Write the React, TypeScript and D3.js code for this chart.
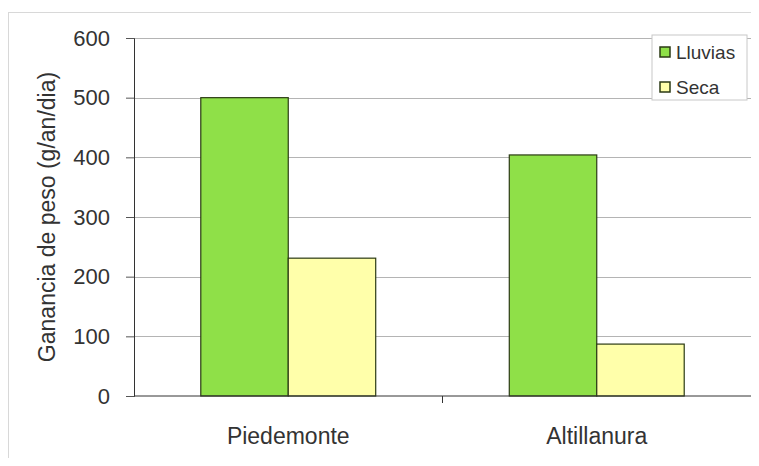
import React, { useEffect, useRef } from "react";
import * as d3 from "d3";

// regiones y temporadas
const categories = ["Piedemonte", "Altillanura"];
const seriesNames = ["Lluvias", "Seca"];
const lluvias = [500, 404];
const seca = [231, 87];
const yTicks = [0, 100, 200, 300, 400, 500, 600];

const colors: Record<string, string> = { Lluvias: "#8fe048", Seca: "#ffffaa" };

const W = 759;
const H = 466;
const margin = { top: 38, right: 8, bottom: 70, left: 134 };

const App = () => {
    const ref = useRef<SVGSVGElement>(null);

    useEffect(() => {
        const svg = d3.select(ref.current);
        svg.selectAll("*").remove();
        const font = "'Liberation Sans', Arial, sans-serif";

        const innerW = W - margin.left - margin.right;
        const innerH = H - margin.top - margin.bottom;

        // marco exterior
        svg.append("rect")
            .attr("x", 8.5)
            .attr("y", 12.5)
            .attr("width", 744)
            .attr("height", 450)
            .attr("fill", "#fff")
            .attr("stroke", "#d8d8d8");

        const g = svg.append("g").attr("transform", `translate(${margin.left},${margin.top})`);

        const x0 = d3.scaleBand().domain(categories).range([0, innerW]).paddingInner(0.433).paddingOuter(0.2165);
        const x1 = d3.scaleBand().domain(seriesNames).range([0, x0.bandwidth()]);
        const y = d3.scaleLinear().domain([0, 600]).range([innerH, 0]);

        // líneas de cuadrícula
        g.selectAll(".grid")
            .data(yTicks.filter((d) => d > 0))
            .enter()
            .append("line")
            .attr("x1", 0)
            .attr("x2", innerW)
            .attr("y1", (d) => Math.round(y(d)) + 0.5)
            .attr("y2", (d) => Math.round(y(d)) + 0.5)
            .attr("stroke", "#b4b4b4")
            .attr("stroke-width", 1);

        // borde derecho del área
        g.append("line")
            .attr("x1", innerW + 0.5)
            .attr("x2", innerW + 0.5)
            .attr("y1", 0)
            .attr("y2", innerH)
            .attr("stroke", "#b4b4b4");

        const rows = categories.map((c, i) => ({ cat: c, Lluvias: lluvias[i], Seca: seca[i] }));

        g.selectAll(".grp")
            .data(rows)
            .enter()
            .append("g")
            .attr("transform", (d) => `translate(${x0(d.cat)},0)`)
            .selectAll("rect")
            .data((d) => seriesNames.map((s) => ({ s, v: (d as any)[s] as number })))
            .enter()
            .append("rect")
            .attr("x", (d) => x1(d.s)!)
            .attr("y", (d) => y(d.v))
            .attr("width", x1.bandwidth())
            .attr("height", (d) => innerH - y(d.v))
            .attr("fill", (d) => colors[d.s])
            .attr("stroke", "#2b3a14")
            .attr("stroke-width", 1.2);

        // eje Y
        const yAxis = g.append("g").call(d3.axisLeft(y).tickValues(yTicks).tickSize(8).tickPadding(16));
        yAxis.select(".domain").attr("stroke", "#333");
        yAxis.selectAll(".tick line").attr("stroke", "#555");
        yAxis.selectAll("text").attr("font-family", font).attr("font-size", 22).attr("fill", "#333");

        // eje X
        const xAxis = g.append("g").attr("transform", `translate(0,${innerH})`);
        xAxis.append("line").attr("x1", 0).attr("x2", innerW).attr("stroke", "#333");
        xAxis.append("line")
            .attr("x1", innerW / 2)
            .attr("x2", innerW / 2)
            .attr("y1", 0)
            .attr("y2", 7)
            .attr("stroke", "#333");
        xAxis.selectAll(".lbl")
            .data(categories)
            .enter()
            .append("text")
            .attr("x", (d) => x0(d)! + x0.bandwidth() / 2)
            .attr("y", 48)
            .attr("text-anchor", "middle")
            .attr("font-family", font)
            .attr("font-size", 23)
            .attr("fill", "#333")
            .text((d) => d);

        // título eje Y
        svg.append("text")
            .attr("transform", `translate(55,${margin.top + innerH / 2}) rotate(-90)`)
            .attr("text-anchor", "middle")
            .attr("font-family", font)
            .attr("font-size", 23)
            .attr("fill", "#333")
            .text("Ganancia de peso (g/an/dia)");

        // leyenda
        const leg = svg.append("g").attr("transform", "translate(652,35)");
        leg.append("rect")
            .attr("width", 95)
            .attr("height", 65)
            .attr("fill", "#fff")
            .attr("stroke", "#c8c8c8");
        seriesNames.forEach((s, i) => {
            const yy = 17 + i * 35;
            leg.append("rect")
                .attr("x", 8)
                .attr("y", yy - 5)
                .attr("width", 10)
                .attr("height", 10)
                .attr("fill", colors[s])
                .attr("stroke", "#2b3a14")
                .attr("stroke-width", 1.5);
            leg.append("text")
                .attr("x", 24)
                .attr("y", yy + 7)
                .attr("font-family", font)
                .attr("font-size", 19)
                .attr("fill", "#333")
                .text(s);
        });
    }, []);

    return <svg ref={ref} width={W} height={H} style={{ display: "block", margin: -8 }} />;
};

export default App;
